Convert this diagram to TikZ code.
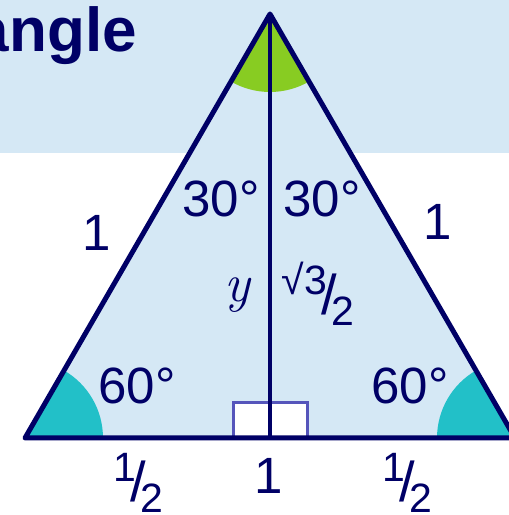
\documentclass[tikz,border=0pt]{standalone}
\usepackage{fontspec}
\setmainfont{Liberation Sans}
\newfontfamily\lmroman{Latin Modern Roman}
\usepackage{graphicx}
\definecolor{navy}{RGB}{0,0,102}
\definecolor{paleblue}{RGB}{213,232,245}
\definecolor{apexgreen}{RGB}{136,204,34}
\definecolor{baseteal}{RGB}{34,192,200}
\definecolor{boxblue}{RGB}{85,85,187}
\newcommand{\slfrac}[2]{\raisebox{0.5em}{#1}\kern-0.14em{\fontsize{56}{60}\selectfont/}\kern-0.14em\raisebox{-0.25em}{#2}}
\tikzset{
  lbl/.style={text=navy, inner sep=0pt, font=\fontsize{51}{60}\selectfont},
  fraclbl/.style={text=navy, inner sep=0pt, anchor=base, font=\fontsize{41}{50}\selectfont},
  side/.style={navy, line width=5pt, line join=round},
}
\begin{document}
\begin{tikzpicture}[x=1pt, y=1pt]
  \useasboundingbox (0,0) rectangle (509,515);
  \fill[paleblue] (0,362) rectangle (509,515);
  \node[lbl, anchor=base east, font=\fontsize{62}{70}\selectfont\bfseries] (title) at (137,463) {angle};
  % triangle corners
  \coordinate (top) at (270,501);
  \coordinate (bl) at (25,77);
  \coordinate (br) at (515,77);
  \coordinate (foot) at (270,77);
  \fill[paleblue] (top) -- (bl) -- (br) -- cycle;
  \fill[apexgreen] (top) -- ++(240:78) arc[start angle=240, end angle=300, radius=78pt] -- cycle;
  \fill[baseteal] (bl) -- ++(0:78) arc[start angle=0, end angle=60, radius=78pt] -- cycle;
  \fill[baseteal] (br) -- ++(120:78) arc[start angle=120, end angle=180, radius=78pt] -- cycle;
  \draw[boxblue, fill=white, line width=3pt] (233,77) rectangle (307,112);
  \draw[side] (top) -- (bl) -- (br) -- cycle;
  \draw[navy, line width=4pt] (top) -- (foot);
  % angles and sides
  \node[lbl] (a30l) at (221,316) {30°};
  \node[lbl] (a30r) at (322,316) {30°};
  \node[lbl] (s1l) at (96.5,282) {1};
  \node[lbl] (s1r) at (438,293) {1};
  \node[lbl] (a60l) at (137,129) {60°};
  \node[lbl] (a60r) at (410,129) {60°};
  \node[lbl] (b1) at (268.5,39) {1};
  \node[lbl, font=\fontsize{54}{60}\selectfont\lmroman\itshape] (hy) at (237,220) {y};
  \node[fraclbl] (hroot) at (318,200) {\slfrac{√3}{2}};
  \node[fraclbl] (halfl) at (138,13) {\slfrac{1}{2}};
  \node[fraclbl] (halfr) at (407,13) {\slfrac{1}{2}};
\end{tikzpicture}
\end{document}
